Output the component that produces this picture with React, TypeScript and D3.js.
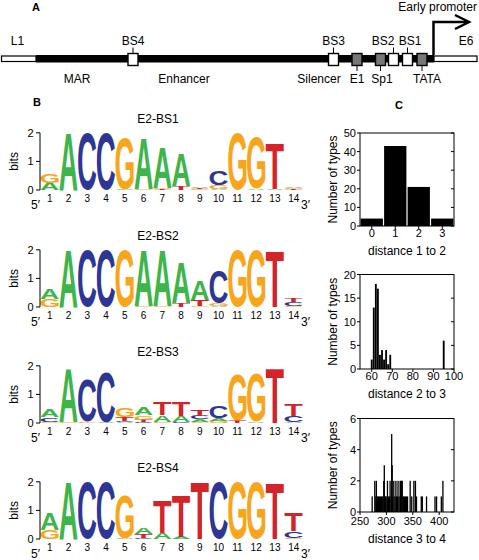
import React, { useMemo } from "react";
import * as d3 from "d3";

// ---------- DATA ----------
type Stack = [string, number][];

const logoTitles = ["E2-BS1", "E2-BS2", "E2-BS3", "E2-BS4"];
const positions = d3.range(1, 15);

const logo1: Stack[] = [
  [["A", 0.25], ["G", 0.33]],
  [["A", 1.98]],
  [["C", 1.99]],
  [["C", 1.99]],
  [["A", 0.02], ["G", 1.8]],
  [["G", 0.03], ["A", 1.75]],
  [["T", 0.03], ["G", 0.04], ["A", 1.4]],
  [["T", 0.15], ["A", 1.15]],
  [["G", 0.03], ["T", 0.04], ["A", 0.06]],
  [["A", 0.04], ["G", 0.14], ["C", 0.5]],
  [["G", 1.99]],
  [["A", 0.03], ["G", 1.78]],
  [["A", 0.05], ["T", 1.6]],
  [["T", 0.03], ["G", 0.04], ["A", 0.06]],
];

const logo2: Stack[] = [
  [["G", 0.28], ["A", 0.35]],
  [["A", 1.99]],
  [["C", 1.99]],
  [["C", 1.99]],
  [["G", 1.98]],
  [["G", 0.02], ["A", 1.96]],
  [["G", 0.02], ["A", 1.96]],
  [["T", 0.13], ["A", 1.42]],
  [["G", 0.05], ["T", 0.2], ["A", 0.66]],
  [["A", 0.04], ["G", 0.08], ["C", 1.15]],
  [["G", 1.99]],
  [["G", 1.97]],
  [["T", 1.97]],
  [["G", 0.03], ["C", 0.14], ["T", 0.15]],
];

const logo3: Stack[] = [
  [["G", 0.05], ["C", 0.15], ["A", 0.25]],
  [["G", 0.03], ["A", 1.85]],
  [["G", 0.05], ["C", 1.45]],
  [["A", 0.02], ["C", 1.77]],
  [["A", 0.04], ["C", 0.04], ["T", 0.14], ["G", 0.32]],
  [["C", 0.04], ["T", 0.08], ["G", 0.15], ["A", 0.25]],
  [["G", 0.04], ["A", 0.23], ["T", 0.43]],
  [["C", 0.03], ["A", 0.2], ["T", 0.5]],
  [["G", 0.04], ["A", 0.1], ["C", 0.12], ["T", 0.2]],
  [["G", 0.08], ["A", 0.1], ["C", 0.42]],
  [["T", 0.07], ["G", 1.62]],
  [["A", 0.05], ["G", 1.7]],
  [["T", 1.92]],
  [["A", 0.04], ["C", 0.22], ["T", 0.4]],
];

const logo4: Stack[] = [
  [["G", 0.33], ["A", 0.58]],
  [["A", 1.99]],
  [["C", 1.97]],
  [["C", 1.97]],
  [["A", 0.02], ["G", 1.53]],
  [["C", 0.04], ["T", 0.14], ["A", 0.24]],
  [["A", 0.2], ["T", 1.14]],
  [["A", 0.08], ["T", 1.46]],
  [["T", 1.99]],
  [["C", 1.98]],
  [["G", 1.98]],
  [["G", 1.97]],
  [["T", 1.97]],
  [["G", 0.04], ["C", 0.24], ["T", 0.62]],
];

const logos = [logo1, logo2, logo3, logo4];
const bitTicks = [0, 1, 2];

// Histogram 1: distance 1 to 2
const hist1Cats = [0, 1, 2, 3];
const hist1Counts = [4, 43, 21, 4];
const hist1YTicks = [0, 10, 20, 30, 40, 50];

// Histogram 2: distance 2 to 3
const hist2Dist = [60, 61, 62, 63, 64, 65, 66, 67, 68, 69, 95];
const hist2Counts = [2, 13, 18, 17, 3, 4, 2, 4, 1, 3, 6];
const hist2XTicks = [60, 70, 80, 90, 100];
const hist2YTicks = [0, 5, 10, 15, 20];

// Histogram 3: distance 3 to 4
const hist3Dist = [273, 278, 280, 281, 283, 285, 287, 289, 291, 293, 295, 296, 298, 299, 301, 302, 304, 306, 307, 309, 310, 311, 312, 314, 316, 318, 319, 321, 322, 324, 326, 327, 329, 330, 332, 334, 336, 338, 340, 345, 348, 352, 355, 357, 366, 368, 376, 392, 395, 404, 407];
const hist3Counts = [1, 2, 1, 2, 1, 1, 1, 1, 1, 1, 2, 3, 1, 1, 1, 2, 1, 1, 2, 1, 5, 3, 1, 2, 1, 2, 1, 1, 2, 1, 2, 2, 2, 2, 1, 1, 1, 1, 1, 2, 1, 2, 2, 1, 1, 1, 1, 1, 1, 1, 2];
const hist3XTicks = [250, 300, 350, 400];
const hist3YTicks = [0, 2, 4, 6];

// Panel A map
const mapAbove = [
  { label: "L1", x: 17.5, tick: false },
  { label: "BS4", x: 133, tick: true, bx: 133 },
  { label: "BS3", x: 333.5, tick: true, bx: 333.5 },
  { label: "BS2", x: 383, tick: true, bx: 393.5 },
  { label: "BS1", x: 410, tick: true, bx: 407.5 },
  { label: "E6", x: 466, tick: false },
];
const mapBelow = [
  { label: "MAR", x: 77, tick: false },
  { label: "Enhancer", x: 184, tick: false },
  { label: "Silencer", x: 319, tick: false },
  { label: "E1", x: 357, tick: true, bx: 357 },
  { label: "Sp1", x: 382, tick: true, bx: 380.5 },
  { label: "TATA", x: 427, tick: true, bx: 422 },
];
const mapBoxes = [
  { name: "BS4", c: 133, gray: false },
  { name: "BS3", c: 333.5, gray: false },
  { name: "E1", c: 357, gray: true },
  { name: "Sp1", c: 380.5, gray: true },
  { name: "BS2", c: 393.5, gray: false },
  { name: "BS1", c: 407.5, gray: false },
  { name: "TATA", c: 422, gray: true },
];

// ---------- STYLE ----------
const FONT = "'Liberation Sans', Arial, Helvetica, sans-serif";
const letterColors: Record<string, string> = {
  A: "#3db54a",
  C: "#2d3694",
  G: "#f8a51c",
  T: "#d5232a",
};

function useGlyphMetrics() {
  return useMemo(() => {
    const c = document.createElement("canvas");
    const ctx = c.getContext("2d")!;
    ctx.font = `bold 100px ${FONT}`;
    const m: Record<string, { left: number; right: number; asc: number; desc: number }> = {};
    for (const L of "ACGT") {
      const t = ctx.measureText(L);
      m[L] = {
        left: t.actualBoundingBoxLeft,
        right: t.actualBoundingBoxRight,
        asc: t.actualBoundingBoxAscent,
        desc: t.actualBoundingBoxDescent,
      };
    }
    return m;
  }, []);
}

function Logo({ data, title, y0, metrics }: any) {
  const x = d3.scaleLinear().domain([1, 14]).range([49.7, 293.7]);
  const y = d3.scaleLinear().domain([0, 2]).range([y0, y0 - 57.2]);
  const lw = 18.2;
  const axisX = 40;
  const letters: any[] = [];
  data.forEach((stack: Stack, i: number) => {
    let cum = 0;
    const cx = x(positions[i]);
    stack.forEach(([L, h], j) => {
      const yb = y(cum);
      const yt = y(cum + h);
      cum += h;
      const hh = yb - yt;
      if (hh < 0.25) return;
      const m = metrics[L];
      const inkW = m.left + m.right;
      const inkH = m.asc + m.desc;
      letters.push(
        <text
          key={`${i}-${j}`}
          transform={`translate(${cx - lw / 2},${yb}) scale(${lw / inkW},${hh / inkH}) translate(${m.left},${-m.desc})`}
          fontSize={100}
          fontWeight="bold"
          fontFamily={FONT}
          fill={letterColors[L]}
        >
          {L}
        </text>
      );
    });
  });
  return (
    <g>
      <text x={158} y={y0 - 67} fontSize={12} textAnchor="middle" fontFamily={FONT}>
        {title}
      </text>
      {letters}
      <line x1={axisX} x2={axisX} y1={y(2)} y2={y(0)} stroke="#000" strokeWidth={1} />
      {bitTicks.map((t) => (
        <g key={t}>
          <line x1={axisX - 4} x2={axisX} y1={y(t)} y2={y(t)} stroke="#000" strokeWidth={1} />
          <text x={33.5} y={y(t) + 4} fontSize={11} textAnchor="end" fontFamily={FONT}>
            {t}
          </text>
        </g>
      ))}
      <text
        transform={`translate(${18},${(y(0) + y(2)) / 2}) rotate(-90)`}
        fontSize={12}
        textAnchor="middle"
        fontFamily={FONT}
      >
        bits
      </text>
      {positions.map((p) => (
        <text key={p} x={x(p)} y={y0 + 12} fontSize={10} textAnchor="middle" fontFamily={FONT}>
          {p}
        </text>
      ))}
      <text x={31} y={y0 + 18.5} fontSize={12} fontFamily={FONT}>
        5′
      </text>
      <text x={301} y={y0 + 18.5} fontSize={12} fontFamily={FONT}>
        3′
      </text>
    </g>
  );
}

function Hist({ top, bottom, xDomain, yDomain, bars, barWidth, xTicks, yTicks, xTickY, xLabel, xLabelY }: any) {
  const left = 360;
  const right = 454;
  const x = d3.scaleLinear().domain(xDomain).range([left, right]);
  const y = d3.scaleLinear().domain(yDomain).range([bottom, top]);
  return (
    <g fontFamily={FONT}>
      {bars.map((b: any, i: number) => {
        const w = barWidth(x);
        return (
          <rect key={i} x={x(b.x) - w / 2} y={y(b.v)} width={w} height={y(0) - y(b.v)} fill="#000" />
        );
      })}
      <rect x={left} y={top} width={right - left} height={bottom - top} fill="none" stroke="#000" strokeWidth={1} />
      {yTicks.map((t: number) => (
        <g key={t}>
          <line x1={left - 3} x2={left} y1={y(t)} y2={y(t)} stroke="#000" />
          <line x1={right - 3} x2={right} y1={y(t)} y2={y(t)} stroke="#000" />
          <text x={left - 4} y={y(t) + 4} fontSize={11} textAnchor="end">
            {t}
          </text>
        </g>
      ))}
      {xTicks.map((t: number) => (
        <g key={t}>
          <line x1={x(t)} x2={x(t)} y1={bottom} y2={bottom + 3} stroke="#000" />
          <text x={x(t)} y={xTickY} fontSize={11} textAnchor="middle">
            {t}
          </text>
        </g>
      ))}
      <text x={407} y={xLabelY} fontSize={12} textAnchor="middle">
        {xLabel}
      </text>
      <text
        transform={`translate(${337},${(top + bottom) / 2}) rotate(-90)`}
        fontSize={12}
        textAnchor="middle"
      >
        Number of types
      </text>
    </g>
  );
}

export default function App() {
  const metrics = useGlyphMetrics();
  const logoY0 = [190, 307, 423, 539];

  const h1Bars = hist1Cats.map((c, i) => ({ x: c, v: hist1Counts[i] }));
  const h2Bars = hist2Dist.map((d, i) => ({ x: d, v: hist2Counts[i] }));
  const h3Bars = hist3Dist.map((d, i) => ({ x: d, v: hist3Counts[i] }));

  const boxW = 10;
  const boxTop = 53.5;
  const boxH = 12;

  return (
    <svg
      width={479}
      height={560}
      viewBox="0 0 479 560"
      style={{ position: "absolute", left: 0, top: 0, background: "#fff" }}
      fontFamily={FONT}
    >
      <rect width={479} height={560} fill="#fff" />
      {/* Panel A */}
      <text x={32} y={10.5} fontSize={11} fontWeight="bold">A</text>
      <text x={477} y={11} fontSize={12} textAnchor="end">Early promoter</text>
      <rect x={36} y={55} width={398} height={7.5} fill="#000" />
      <rect x={1.5} y={56} width={34.5} height={5.5} fill="#fff" stroke="#000" strokeWidth={1.2} />
      <rect x={434} y={56} width={43} height={5.5} fill="#fff" stroke="#000" strokeWidth={1.2} />
      <polyline points="433.5,55 433.5,22 468,22" fill="none" stroke="#000" strokeWidth={2.5} />
      <polyline points="455,15 469,22 455,29" fill="none" stroke="#000" strokeWidth={2.5} />
      {mapBoxes.map((b) => (
        <rect
          key={b.name}
          x={b.c - boxW / 2}
          y={boxTop}
          width={boxW}
          height={boxH}
          fill={b.gray ? "#777" : "#fff"}
          stroke="#000"
          strokeWidth={1.4}
        />
      ))}
      {mapAbove.map((m) => (
        <g key={m.label}>
          <text x={m.x} y={45} fontSize={12} textAnchor="middle">{m.label}</text>
          {m.tick && <line x1={m.bx} x2={m.bx} y1={47.5} y2={boxTop} stroke="#000" strokeWidth={1} />}
        </g>
      ))}
      {mapBelow.map((m) => (
        <g key={m.label}>
          <text x={m.x} y={83} fontSize={12} textAnchor="middle">{m.label}</text>
          {m.tick && <line x1={m.bx} x2={m.bx} y1={boxTop + boxH} y2={71} stroke="#000" strokeWidth={1} />}
        </g>
      ))}

      {/* Panel B */}
      <text x={33} y={106} fontSize={11} fontWeight="bold">B</text>
      {logos.map((d, i) => (
        <Logo key={i} data={d} title={logoTitles[i]} y0={logoY0[i]} metrics={metrics} />
      ))}

      {/* Panel C */}
      <text x={399} y={109} fontSize={11} fontWeight="bold" textAnchor="middle">C</text>
      <Hist
        top={133}
        bottom={226}
        xDomain={[-0.5, 3.5]}
        yDomain={[0, 50]}
        bars={h1Bars}
        barWidth={(x: any) => x(1) - x(0) - 1.2}
        xTicks={hist1Cats}
        yTicks={hist1YTicks}
        xTickY={237}
        xLabel="distance 1 to 2"
        xLabelY={255}
      />
      <Hist
        top={274.5}
        bottom={369}
        xDomain={[54.3, 100]}
        yDomain={[0, 20]}
        bars={h2Bars}
        barWidth={(x: any) => x(1) - x(0) - 0.2}
        xTicks={hist2XTicks}
        yTicks={hist2YTicks}
        xTickY={380}
        xLabel="distance 2 to 3"
        xLabelY={398}
      />
      <Hist
        top={418.5}
        bottom={512}
        xDomain={[250, 428]}
        yDomain={[0, 6]}
        bars={h3Bars}
        barWidth={() => 1.3}
        xTicks={hist3XTicks}
        yTicks={hist3YTicks}
        xTickY={525}
        xLabel="distance 3 to 4"
        xLabelY={543}
      />
    </svg>
  );
}
